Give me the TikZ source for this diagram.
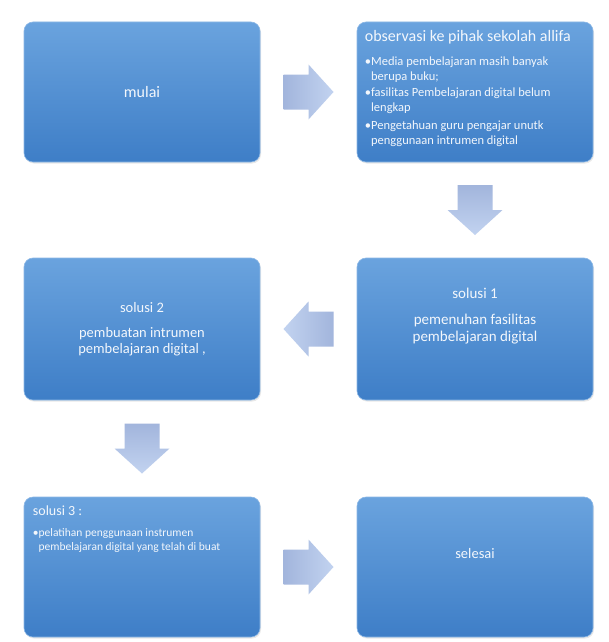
\documentclass[tikz,border=0pt]{standalone}
\usepackage{fontspec}
\setmainfont{Carlito}
\usetikzlibrary{shadows,calc}
\definecolor{boxtop}{HTML}{6AA3DE}
\definecolor{boxbot}{HTML}{3E7EC7}
\definecolor{boxline}{HTML}{8DB8E6}
\definecolor{arrA}{HTML}{A2B5DC}
\definecolor{arrB}{HTML}{C2D3F0}
\definecolor{txt}{HTML}{F3F7FC}
\begin{document}
\begin{tikzpicture}[x=1pt,y=-1pt,
  box/.style={rounded corners=9pt, top color=boxtop, bottom color=boxbot,
    draw=boxline, line width=0.6pt, minimum width=236pt, minimum height=140pt,
    inner sep=0pt, text=txt, font=\fontsize{16}{18}\selectfont,
    drop shadow={opacity=0.18, shadow xshift=1pt, shadow yshift=-1.5pt}},
  boxtext/.style={text=txt, inner sep=0pt},
  rightarrow/.pic={
    \shade[left color=arrA, right color=arrB]
      (-25,-17.5) -- (0,-17.5) -- (0,-27.5) -- (25,0) -- (0,27.5)
      -- (0,17.5) -- (-25,17.5) -- cycle;},
  leftarrow/.pic={
    \shade[left color=arrB, right color=arrA]
      (25,-17.5) -- (0,-17.5) -- (0,-27.5) -- (-25,0) -- (0,27.5)
      -- (0,17.5) -- (25,17.5) -- cycle;},
  downarrow/.pic={
    \shade[top color=arrA, bottom color=arrB]
      (-17.5,-25) -- (-17.5,0) -- (-27.5,0) -- (0,25) -- (27.5,0)
      -- (17.5,0) -- (17.5,-25) -- cycle;}
]
\useasboundingbox[fill=white] (0,0) rectangle (609,642);

% boxes
\node[box] (mulai)   at (142,92)  {mulai};
\node[box] (obs)     at (475,92)  {};
\node[box, minimum height=142pt] (sol2) at (142,329) {};
\node[box, minimum height=142pt] (sol1) at (475,329) {};
\node[box] (sol3)    at (142,567) {};
\node[box] (selesai) at (475,567) {};

% texts
\node[boxtext, font=\fontsize{14.5}{16}\selectfont] (selesaitext)
  at ($(selesai.center)+(0,-13)$) {selesai};

\node[boxtext, anchor=north west, align=left, font=\fontsize{12.5}{15}\selectfont]
  (obstext) at ($(obs.north west)+(8,8)$)
  {{\fontsize{16}{15}\selectfont observasi ke pihak sekolah allifa}\\[9pt]
   •Media pembelajaran masih banyak\\
   \hphantom{•}berupa buku;\\[1.5pt]
   •fasilitas Pembelajaran digital belum\\
   \hphantom{•}lengkap\\[2.5pt]
   •Pengetahuan guru pengajar unutk\\
   \hphantom{•}penggunaan intrumen digital};

\node[boxtext, align=center, font=\fontsize{15}{17}\selectfont]
  (sol1text) at ($(sol1.center)+(0,-13)$)
  {solusi 1\\[9pt] pemenuhan fasilitas\\ pembelajaran digital};

\node[boxtext, align=center, font=\fontsize{14.5}{16}\selectfont]
  (sol2text) at (sol2.center)
  {solusi 2\\[9pt] pembuatan intrumen\\ pembelajaran digital ,};

\node[boxtext, anchor=north west, align=left, font=\fontsize{11.5}{14.5}\selectfont]
  (sol3text) at ($(sol3.north west)+(9,9)$)
  {{\fontsize{14}{15}\selectfont solusi 3 :}\\[6pt]
   •pelatihan penggunaan instrumen\\
   \hphantom{•}pembelajaran digital yang telah di buat};

% block arrows between the boxes
\coordinate (a1) at ($(mulai.east)!0.5!(obs.west)$);
\coordinate (a2) at ($(obs.south)!0.5!(sol1.north)$);
\coordinate (a3) at ($(sol1.west)!0.5!(sol2.east)$);
\coordinate (a4) at ($(sol2.south)!0.5!(sol3.north)$);
\coordinate (a5) at ($(sol3.east)!0.5!(selesai.west)$);
\pic at (a1) {rightarrow};
\pic at (a2) {downarrow};
\pic at (a3) {leftarrow};
\pic at (a4) {downarrow};
\pic at (a5) {rightarrow};
\end{tikzpicture}
\end{document}
